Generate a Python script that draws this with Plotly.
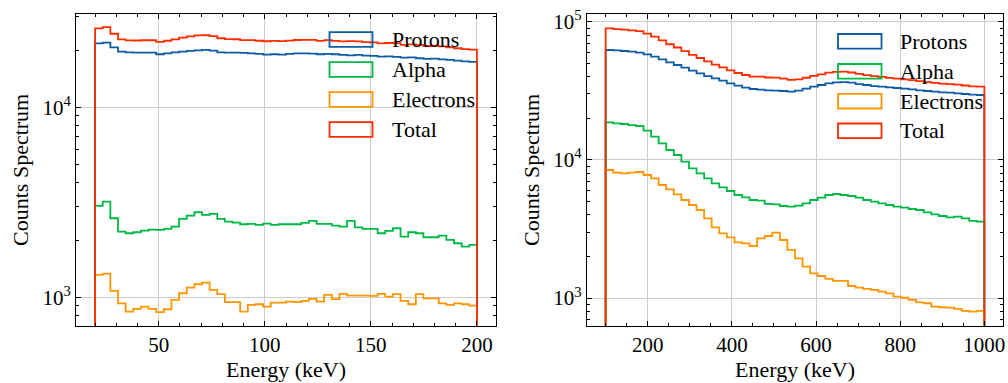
import numpy as np
import plotly.graph_objects as go

W, H = 1008, 383

# ---------------- data ----------------
n_bins = 50
left_range = (20, 200)      # keV, bin edge range of left panel
right_range = (100, 1000)   # keV, bin edge range of right panel

left_protons = [21710, 21890, 20690, 19630, 19470, 19400, 19400, 19400, 19010, 19240,
                19470, 19630, 19790, 19950, 20030, 19870, 19470, 19400, 19400, 19320,
                19240, 19080, 18930, 19010, 18930, 19080, 19240, 19240, 19160, 19010,
                19080, 19010, 18850, 18780, 18850, 18700, 18630, 18480, 18550, 18400,
                18250, 18330, 18110, 17960, 18040, 17890, 17750, 17600, 17460, 17320]
left_alpha = [3023, 3186, 2604, 2215, 2171, 2198, 2242, 2270, 2261, 2288,
              2353, 2583, 2689, 2801, 2711, 2744, 2583, 2502, 2471, 2421,
              2431, 2402, 2441, 2402, 2421, 2421, 2421, 2460, 2521, 2431,
              2431, 2382, 2353, 2521, 2334, 2288, 2288, 2171, 2233, 2307,
              2085, 2198, 2171, 2068, 2068, 2110, 2002, 1923, 1847, 1885]
left_electrons = [1310, 1331, 1079, 929, 840, 868, 893, 868, 834, 864,
                  968, 1049, 1124, 1170, 1194, 1092, 1037, 941, 941, 840,
                  911, 918, 893, 937, 937, 948, 941, 956, 980, 948,
                  1028, 976, 1041, 1020, 1020, 1020, 1016, 1041, 1008, 1037,
                  956, 918, 1037, 987, 987, 929, 911, 929, 918, 904]

right_protons = [62420, 62070, 61380, 60710, 59700, 58060, 55840, 53420, 50820, 48610,
                 46500, 44220, 42300, 40460, 38930, 37440, 35810, 34450, 33320, 32590,
                 32230, 31870, 31700, 31520, 31170, 31700, 32770, 33880, 34830, 35810,
                 36410, 36610, 36210, 35410, 34830, 34250, 33880, 33500, 33140, 32770,
                 32410, 31870, 31520, 31170, 30830, 30660, 30320, 29980, 29650, 29490]
right_alpha = [18700, 18390, 18190, 17880, 17590, 16270, 14730, 13180, 11790, 10850,
               9710, 8690, 7990, 7355, 6767, 6332, 5957, 5572, 5360, 5128,
               5070, 4798, 4771, 4640, 4589, 4666, 4851, 5128, 5330, 5572,
               5666, 5572, 5481, 5330, 5128, 4988, 4851, 4718, 4589, 4513,
               4413, 4340, 4175, 4037, 3927, 3841, 3884, 3778, 3614, 3574]
right_electrons = [8453, 8084, 7993, 8084, 8174, 7774, 7355, 6582, 6124, 5634,
                   5128, 4718, 4340, 3778, 3251, 2942, 2752, 2532, 2491, 2382,
                   2707, 2814, 2975, 2633, 2229, 1940, 1688, 1511, 1445, 1375,
                   1330, 1330, 1223, 1190, 1164, 1145, 1113, 1083, 1024, 1007,
                   969, 932, 917, 867, 858, 853, 834, 807, 798, 807]

series_names = ["Protons", "Alpha", "Electrons", "Total"]
colors = ["#0C5DA5", "#00B945", "#FF9500", "#FF2C00"]

left_x_ticks = [50, 100, 150, 200]
right_x_ticks = [200, 400, 600, 800, 1000]
left_y_ticks = [1e3, 1e4]
right_y_ticks = [1e3, 1e4, 1e5]
y_tick_text = {1e3: "10<sup>3</sup>", 1e4: "10<sup>4</sup>", 1e5: "10<sup>5</sup>"}

FONT = "Liberation Serif"
FS_TICK = 21
FS_TITLE = 22

fig = go.Figure()


def add_panel(rng, comps, xa, ya):
    edges = np.linspace(rng[0], rng[1], n_bins + 1)
    arrs = [np.asarray(c, dtype=float) for c in comps]
    total = arrs[0] + arrs[1] + arrs[2]
    floor = 1.0
    for vals, col in zip(arrs + [total], colors):
        x = np.concatenate([[edges[0]], edges[:-1], [edges[-1], edges[-1]]])
        y = np.concatenate([[floor], vals, [vals[-1], floor]])
        fig.add_trace(go.Scatter(x=x, y=y, mode="lines",
                                 line=dict(color=col, width=1.8, shape="hv"),
                                 xaxis=xa, yaxis=ya, showlegend=False,
                                 hoverinfo="skip"))


add_panel(left_range, [left_protons, left_alpha, left_electrons], "x", "y")
add_panel(right_range, [right_protons, right_alpha, right_electrons], "x2", "y2")

common = dict(showline=True, linecolor="black", linewidth=1, mirror="allticks",
              ticks="inside", ticklen=5, tickwidth=1, tickcolor="black",
              showgrid=True, gridcolor="#cdcdcd", gridwidth=1, zeroline=False,
              tickfont=dict(family=FONT, size=FS_TICK, color="black"),
              ticklabeloverflow="allow", automargin=False)

ydom = [1 - 325.7 / H, 1 - 14 / H]
title_font = dict(family=FONT, size=FS_TITLE, color="black")

fig.update_layout(
    width=W, height=H,
    margin=dict(l=0, r=0, t=0, b=0),
    paper_bgcolor="white", plot_bgcolor="white",
    font=dict(family=FONT, size=FS_TICK, color="black"),
    showlegend=False,
    xaxis=dict(domain=[76 / W, 496 / W], range=[11, 209], anchor="y",
               tickvals=left_x_ticks,
               minor=dict(ticks="inside", ticklen=3, dtick=10, tickcolor="black", showgrid=False),
               title=dict(text="Energy (keV)", standoff=1, font=title_font),
               **common),
    yaxis=dict(domain=ydom, type="log", range=[2.85, 4.491], anchor="x",
               tickvals=left_y_ticks, ticktext=[y_tick_text[v] for v in left_y_ticks],
               minor=dict(ticks="inside", ticklen=3, dtick="D1", tickcolor="black", showgrid=False),
               title=dict(text="Counts Spectrum", standoff=7, font=title_font),
               **common),
    xaxis2=dict(domain=[586.7 / W, 1003.3 / W], range=[55, 1045], anchor="y2",
                tickvals=right_x_ticks,
                minor=dict(ticks="inside", ticklen=3, dtick=50, tickcolor="black", showgrid=False),
                title=dict(text="Energy (keV)", standoff=1, font=title_font),
                **common),
    yaxis2=dict(domain=ydom, type="log", range=[2.80, 5.056], anchor="x2",
                tickvals=right_y_ticks, ticktext=[y_tick_text[v] for v in right_y_ticks],
                minor=dict(ticks="inside", ticklen=3, dtick="D1", tickcolor="black", showgrid=False),
                title=dict(text="Counts Spectrum", standoff=7, font=title_font),
                **common),
)

# manual legends (open rectangles + labels), positions in pixels
legend_specs = [
    # (rect_x0, rect_x1, text_x, [row centres])
    (329.5, 372.5, 390, [39.5, 69.5, 99.5, 129.5]),
    (838, 881.5, 898, [41.3, 71.3, 101.2, 130.8]),
]
shapes, annots = [], []
for rx0, rx1, tx, centres in legend_specs:
    for name, col, cy in zip(series_names, colors, centres):
        shapes.append(dict(type="rect", xref="paper", yref="paper",
                           x0=rx0 / W, x1=rx1 / W,
                           y0=1 - (cy + 7.3) / H, y1=1 - (cy - 7.3) / H,
                           line=dict(color=col, width=1.8), fillcolor="rgba(0,0,0,0)"))
        annots.append(dict(text=name, xref="paper", yref="paper", x=tx / W, y=1 - cy / H,
                           xanchor="left", yanchor="middle", showarrow=False,
                           font=dict(family=FONT, size=FS_TITLE, color="black")))
fig.update_layout(shapes=shapes, annotations=annots)

fig.write_html("out.html")
